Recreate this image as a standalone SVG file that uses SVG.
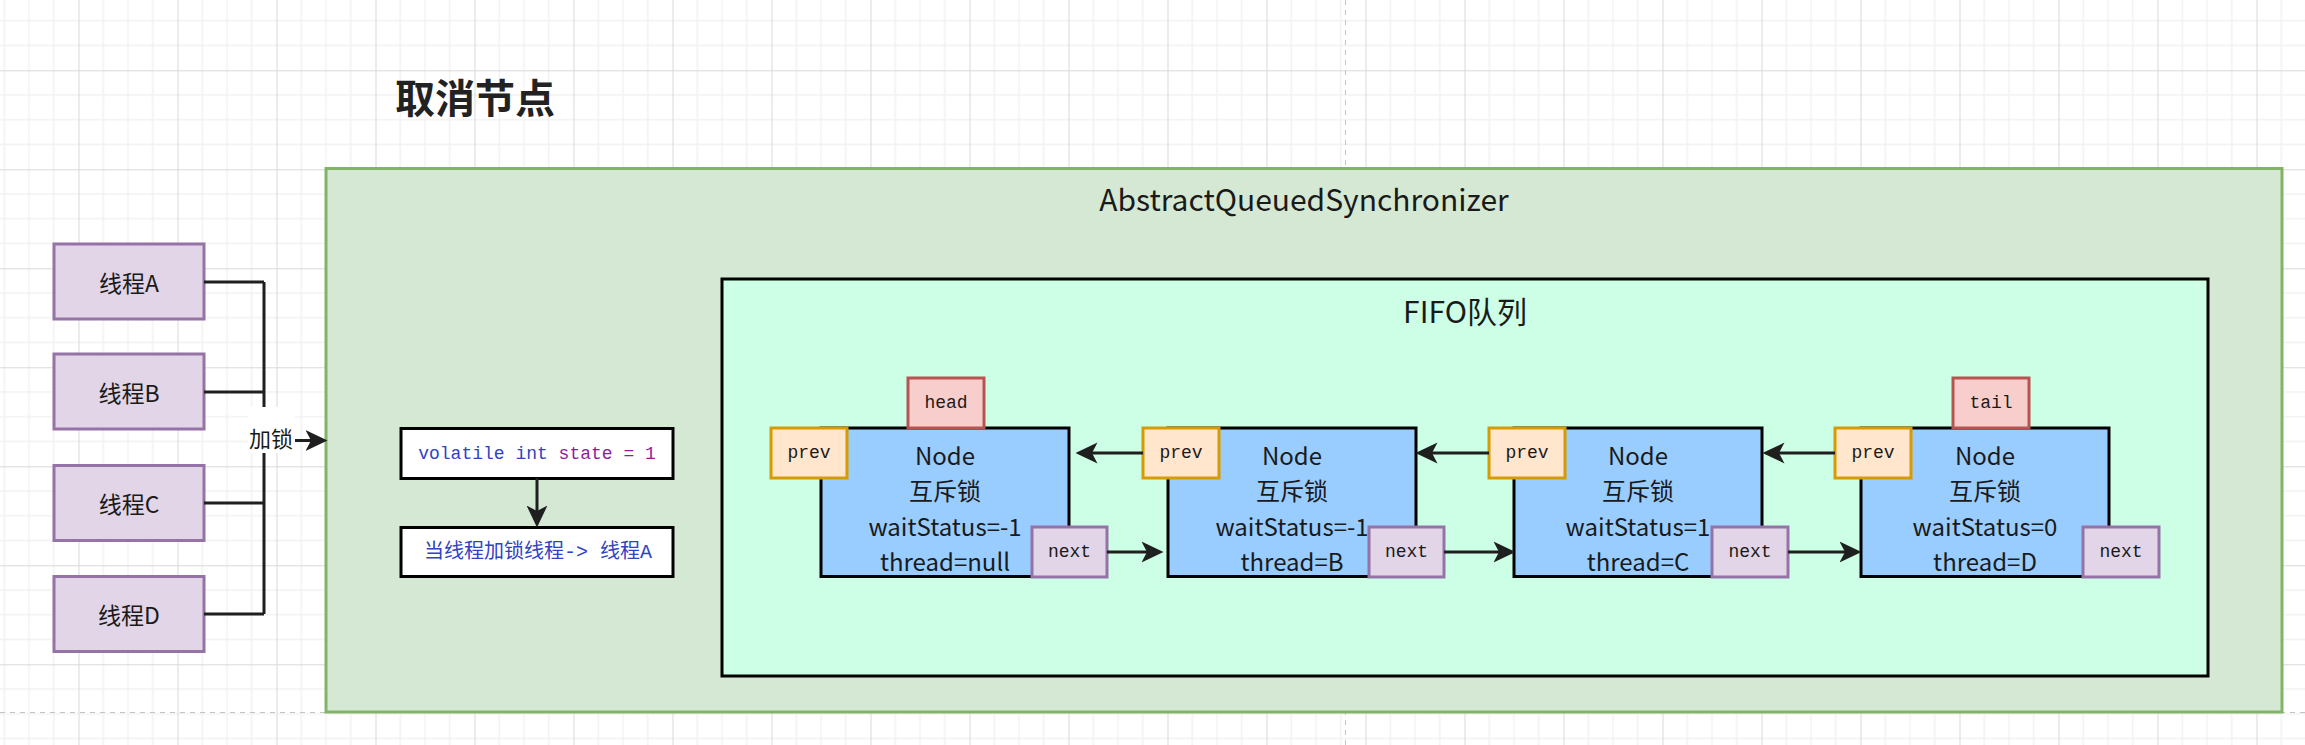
<svg xmlns="http://www.w3.org/2000/svg" width="2305" height="745" viewBox="0 0 2305 745">
  <style>
    .sans { font-family: "Noto Sans CJK SC", "Noto Sans", sans-serif; fill: #1a1a1a; }
    .mono { font-family: "Liberation Mono", "Noto Sans CJK SC", monospace; fill: #1a1a1a; }
    .c { text-anchor: middle; dominant-baseline: central; }
    .nodebox { fill: #99ccff; stroke: #000; stroke-width: 3; }
    .prev { fill: #ffe6cc; stroke: #d79b00; stroke-width: 3; }
    .next { fill: #e1d5e7; stroke: #9673a6; stroke-width: 3; }
    .ptr { fill: #f8cecc; stroke: #b85450; stroke-width: 3; }
    .thread { fill: #e1d5e7; stroke: #9673a6; stroke-width: 3; }
    .plain { fill: #ffffff; stroke: #000; stroke-width: 3; }
    .edge { fill: none; stroke: #1f1f1f; stroke-width: 3; }
    .arrow { marker-end: url(#arr); }
    .nt { font-size: 24px; }
    .tt { font-size: 23px; }
    .lt { font-size: 22px; }
    .mt { font-size: 18px; }
  </style>
  <defs>
    <pattern id="grid" patternUnits="userSpaceOnUse" x="-20.5" y="-28.7" width="99" height="99">
      <path d="M24.75,0V99M49.5,0V99M74.25,0V99M0,24.75H99M0,49.5H99M0,74.25H99" stroke="#f1f1f1" stroke-width="1.5" fill="none"/>
      <path d="M0.5,0V99M0,0.5H99" stroke="#d9d9d9" stroke-width="1" fill="none"/>
    </pattern>
    <marker id="arr" markerUnits="userSpaceOnUse" markerWidth="22" markerHeight="22" viewBox="0 0 20 20" refX="5" refY="10" orient="auto">
      <path d="M0,0.5 L20,10 L0,19.5 L5,10 Z" fill="#1f1f1f"/>
    </marker>
  </defs>

  <!-- background grid and page breaks -->
  <rect x="0" y="0" width="2305" height="745" fill="#ffffff"/>
  <rect x="0" y="0" width="2305" height="745" fill="url(#grid)"/>
  <path d="M1345.5,0V745M0,712.5H2305" stroke="#c4c4c4" stroke-width="1" stroke-dasharray="5 5" fill="none"/>

  <!-- title -->
  <g id="title">
    <text class="sans c" x="475" y="96" style="font-size:40px;font-weight:bold;fill:#222">取消节点</text>
  </g>

  <!-- AQS container -->
  <g id="aqs">
    <rect x="326" y="168.5" width="1956" height="543.5" fill="#d5e8d4" stroke="#82b366" stroke-width="3"/>
    <text class="sans c" x="1304" y="198" style="font-size:30px">AbstractQueuedSynchronizer</text>
  </g>

  <!-- FIFO queue container -->
  <g id="fifo">
    <rect x="722" y="279" width="1486" height="397" fill="#ccffe6" stroke="#000" stroke-width="3"/>
    <text class="sans c" x="1465" y="310" style="font-size:30px">FIFO队列</text>
  </g>

  <!-- state boxes -->
  <g id="state">
    <rect class="plain" x="401" y="428.5" width="272" height="50"/>
    <text class="mono c mt" x="537" y="453.5"><tspan style="fill:#2f42c2">volatile int </tspan><tspan style="fill:#8e1d9c">state = 1</tspan></text>
  </g>
  <g id="owner">
    <rect class="plain" x="401" y="527.5" width="272" height="49"/>
    <text class="mono c" x="538" y="552" style="font-size:20px;fill:#2f42c2">当线程加锁线程-&gt; 线程A</text>
  </g>

  <!-- threads -->
  <g id="threadA">
    <rect class="thread" x="54" y="244" width="150" height="75"/>
    <text class="sans c tt" x="129" y="282">线程A</text>
  </g>
  <g id="threadB">
    <rect class="thread" x="54" y="354" width="150" height="75"/>
    <text class="sans c tt" x="129" y="392">线程B</text>
  </g>
  <g id="threadC">
    <rect class="thread" x="54" y="465.5" width="150" height="75"/>
    <text class="sans c tt" x="129" y="503">线程C</text>
  </g>
  <g id="threadD">
    <rect class="thread" x="54" y="576.5" width="150" height="75"/>
    <text class="sans c tt" x="129" y="614">线程D</text>
  </g>

  <!-- queue nodes -->
  <g id="node1">
    <rect class="nodebox" x="821" y="428" width="248" height="148.5"/>
    <text class="sans c nt" x="945" y="454">Node</text>
    <text class="sans c nt" x="945" y="489.5">互斥锁</text>
    <text class="sans c nt" x="945" y="525">waitStatus=-1</text>
    <text class="sans c nt" x="945" y="560">thread=null</text>
    <g id="node1-prev"><rect class="prev" x="771" y="428" width="76" height="50"/><text class="mono c mt" x="809" y="453">prev</text></g>
    <g id="node1-next"><rect class="next" x="1032" y="527" width="75" height="50"/><text class="mono c mt" x="1069.5" y="552">next</text></g>
    <g id="head"><rect class="ptr" x="908" y="378" width="76" height="50"/><text class="mono c mt" x="946" y="403">head</text></g>
  </g>
  <g id="node2">
    <rect class="nodebox" x="1168" y="428" width="248" height="148.5"/>
    <text class="sans c nt" x="1292" y="454">Node</text>
    <text class="sans c nt" x="1292" y="489.5">互斥锁</text>
    <text class="sans c nt" x="1292" y="525">waitStatus=-1</text>
    <text class="sans c nt" x="1292" y="560">thread=B</text>
    <g id="node2-prev"><rect class="prev" x="1143" y="428" width="76" height="50"/><text class="mono c mt" x="1181" y="453">prev</text></g>
    <g id="node2-next"><rect class="next" x="1369" y="527" width="75" height="50"/><text class="mono c mt" x="1406.5" y="552">next</text></g>
  </g>
  <g id="node3">
    <rect class="nodebox" x="1514" y="428" width="248" height="148.5"/>
    <text class="sans c nt" x="1638" y="454">Node</text>
    <text class="sans c nt" x="1638" y="489.5">互斥锁</text>
    <text class="sans c nt" x="1638" y="525">waitStatus=1</text>
    <text class="sans c nt" x="1638" y="560">thread=C</text>
    <g id="node3-prev"><rect class="prev" x="1489" y="428" width="76" height="50"/><text class="mono c mt" x="1527" y="453">prev</text></g>
    <g id="node3-next"><rect class="next" x="1712" y="527" width="76" height="50"/><text class="mono c mt" x="1750" y="552">next</text></g>
  </g>
  <g id="node4">
    <rect class="nodebox" x="1861" y="428" width="248" height="148.5"/>
    <text class="sans c nt" x="1985" y="454">Node</text>
    <text class="sans c nt" x="1985" y="489.5">互斥锁</text>
    <text class="sans c nt" x="1985" y="525">waitStatus=0</text>
    <text class="sans c nt" x="1985" y="560">thread=D</text>
    <g id="node4-prev"><rect class="prev" x="1835" y="428" width="76" height="50"/><text class="mono c mt" x="1873" y="453">prev</text></g>
    <g id="node4-next"><rect class="next" x="2083" y="527" width="76" height="50"/><text class="mono c mt" x="2121" y="552">next</text></g>
    <g id="tail"><rect class="ptr" x="1953" y="378" width="76" height="50"/><text class="mono c mt" x="1991" y="403">tail</text></g>
  </g>

  <!-- connectors -->
  <g id="connectors">
    <path class="edge" d="M204,282H264M204,392H264M204,503H264M204,614H264M264,282V614"/>
    <path class="edge arrow" d="M264,440.5H311"/>
    <rect x="248" y="407" width="47" height="46" fill="#ffffff"/>
    <text class="sans c lt" x="271" y="437">加锁</text>
    <path class="edge arrow" d="M537,478V511"/>
    <path class="edge arrow" d="M1143,453H1092"/>
    <path class="edge arrow" d="M1489,453H1432"/>
    <path class="edge arrow" d="M1835,453H1779"/>
    <path class="edge arrow" d="M1107,552H1147"/>
    <path class="edge arrow" d="M1444,552H1499"/>
    <path class="edge arrow" d="M1788,552H1845"/>
  </g>
</svg>
